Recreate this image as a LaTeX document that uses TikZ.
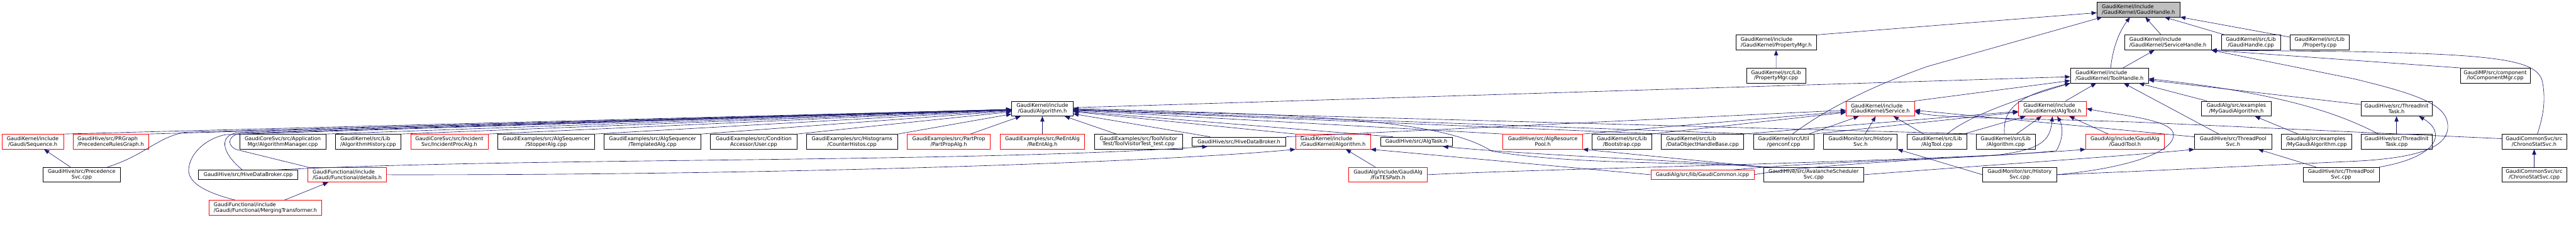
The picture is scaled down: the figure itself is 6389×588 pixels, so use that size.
\documentclass[tikz,border=0pt]{standalone}
\usepackage{fontspec}
\setmainfont{DejaVu Sans}
\usetikzlibrary{arrows.meta}
\definecolor{edgec}{RGB}{25,25,112}
\definecolor{rootfill}{RGB}{191,191,191}
\tikzset{
  nb/.style={draw=black, fill=white, line width=1pt, rectangle, inner sep=0pt, minimum height=37pt,
    font=\fontsize{12.8}{13.8}\selectfont, align=center},
  nbl/.style={nb, align=left},
  rd/.style={draw=red},
  one/.style={minimum height=23pt},
  root/.style={fill=rootfill},
  inc/.style={draw=edgec, line width=1pt, {Triangle[length=13pt,width=10pt]}-}
}
\begin{document}
\begin{tikzpicture}[x=1pt,y=-1pt]
\useasboundingbox (0,0) rectangle (6389,588);
% level 0
\node[nbl, root, minimum width=205.9pt] (gh) at (5303.75,23.5) {GaudiKernel/include\\/GaudiKernel/GaudiHandle.h};
% level 1
\node[nbl, minimum width=198.7pt] (pmh) at (4405.15,105.5) {GaudiKernel/include\\/GaudiKernel/PropertyMgr.h};
\node[nbl, minimum width=214.6pt] (shh) at (5376.9,105.5) {GaudiKernel/include\\/GaudiKernel/ServiceHandle.h};
\node[nb, minimum width=147pt] (ghc) at (5582.5,105.5) {GaudiKernel/src/Lib\\/GaudiHandle.cpp};
\node[nb, minimum width=147pt] (propc) at (5753,105.5) {GaudiKernel/src/Lib\\/Property.cpp};
% level 2
\node[nb, minimum width=146.7pt] (pmc) at (4404.95,187.5) {GaudiKernel/src/Lib\\/PropertyMgr.cpp};
\node[nbl, minimum width=193.6pt] (thh) at (5231.8,187.5) {GaudiKernel/include\\/GaudiKernel/ToolHandle.h};
\node[nb, minimum width=172.9pt] (iocm) at (6188.5,187.5) {GaudiMP/src/component\\/IoComponentMgr.cpp};
% level 3
\node[nb, minimum width=152.3pt] (galg) at (2585.25,269.5) {GaudiKernel/include\\/Gaudi/Algorithm.h};
\node[nbl, rd, minimum width=169.5pt] (svc) at (4663.55,269.5) {GaudiKernel/include\\/GaudiKernel/Service.h};
\node[nbl, rd, minimum width=168.7pt] (atoolh) at (5090.25,269.5) {GaudiKernel/include\\/GaudiKernel/AlgTool.h};
\node[nb, minimum width=172.1pt] (mgah) at (5546.55,269.5) {GaudiAlg/src/examples\\/MyGaudiAlgorithm.h};
\node[nb, minimum width=176.6pt] (tith) at (5943.8,269.5) {GaudiHive/src/ThreadInit\\Task.h};
% level 4
\node[nb, rd, minimum width=152.6pt] (seq) at (81.1,351.5) {GaudiKernel/include\\/Gaudi/Sequence.h};
\node[nbl, rd, minimum width=187pt] (prg) at (274.5,351.5) {GaudiHive/src/PRGraph\\/PrecedenceRulesGraph.h};
\node[nb, minimum width=213.5pt] (algmgr) at (701.15,351.5) {GaudiCoreSvc/src/Application\\Mgr/AlgorithmManager.cpp};
\node[nbl, minimum width=162.9pt] (alghist) at (913.05,351.5) {GaudiKernel/src/Lib\\/AlgorithmHistory.cpp};
\node[nb, rd, minimum width=192.2pt] (incproc) at (1114.4,351.5) {GaudiCoreSvc/src/Incident\\Svc/IncidentProcAlg.h};
\node[nb, minimum width=240pt] (stopper) at (1354.6,351.5) {GaudiExamples/src/AlgSequencer\\/StopperAlg.cpp};
\node[nb, minimum width=240.4pt] (templ) at (1618.6,351.5) {GaudiExamples/src/AlgSequencer\\/TemplatedAlg.cpp};
\node[nb, minimum width=214.2pt] (user) at (1869.3,351.5) {GaudiExamples/src/Condition\\Accessor/User.cpp};
\node[nb, minimum width=227.3pt] (counter) at (2113.05,351.5) {GaudiExamples/src/Histograms\\/CounterHistos.cpp};
\node[nb, rd, minimum width=205.9pt] (partprop) at (2353.15,351.5) {GaudiExamples/src/PartProp\\/PartPropAlg.h};
\node[nb, rd, minimum width=210.1pt] (reent) at (2585.25,351.5) {GaudiExamples/src/ReEntAlg\\/ReEntAlg.h};
\node[nb, minimum width=218.7pt] (toolvis) at (2823.75,351.5) {GaudiExamples/src/ToolVisitor\\Test/ToolVisitorTest\_test.cpp};
\node[nb, one, minimum width=231.8pt] (hdbh) at (3072.7,351.5) {GaudiHive/src/HiveDataBroker.h};
\node[nbl, rd, minimum width=185.6pt] (gkalg) at (3306.2,351.5) {GaudiKernel/include\\/GaudiKernel/Algorithm.h};
\node[nb, one, minimum width=178.7pt] (algtask) at (3512.85,351.5) {GaudiHive/src/AlgTask.h};
\node[nb, rd, minimum width=197.6pt] (arp) at (3826.4,351.5) {GaudiHive/src/AlgResource\\Pool.h};
\node[nb, minimum width=147.4pt] (boot) at (4022.7,351.5) {GaudiKernel/src/Lib\\/Bootstrap.cpp};
\node[nbl, minimum width=203.9pt] (dohb) at (4222.45,351.5) {GaudiKernel/src/Lib\\/DataObjectHandleBase.cpp};
\node[nb, minimum width=150.5pt] (genconf) at (4423.75,351.5) {GaudiKernel/src/Util\\/genconf.cpp};
\node[nb, minimum width=182.6pt] (histh) at (4614.3,351.5) {GaudiMonitor/src/History\\Svc.h};
\node[nb, minimum width=147pt] (atoolc) at (4803.9,351.5) {GaudiKernel/src/Lib\\/AlgTool.cpp};
\node[nb, minimum width=147pt] (algc) at (4974.4,351.5) {GaudiKernel/src/Lib\\/Algorithm.cpp};
\node[nb, rd, minimum width=194.9pt] (gtool) at (5270.35,351.5) {GaudiAlg/include/GaudiAlg\\/GaudiTool.h};
\node[nb, minimum width=191.1pt] (tpsh) at (5538.45,351.5) {GaudiHive/src/ThreadPool\\Svc.h};
\node[nbl, minimum width=174.9pt] (mgac) at (5745.25,351.5) {GaudiAlg/src/examples\\/MyGaudiAlgorithm.cpp};
\node[nb, minimum width=176.6pt] (titc) at (5943.8,351.5) {GaudiHive/src/ThreadInit\\Task.cpp};
\node[nb, minimum width=160.5pt] (chrh) at (6285.2,351.5) {GaudiCommonSvc/src\\/ChronoStatSvc.h};
% level 5
\node[nb, minimum width=191.9pt] (precsvc) at (202.65,433.5) {GaudiHive/src/Precedence\\Svc.cpp};
\node[nb, one, minimum width=247pt] (hdbc) at (615.5,433.5) {GaudiHive/src/HiveDataBroker.cpp};
\node[nbl, rd, minimum width=195.2pt] (details) at (861.1,433.5) {GaudiFunctional/include\\/Gaudi/Functional/details.h};
\node[nb, rd, minimum width=194.6pt] (fixtes) at (3442.6,433.5) {GaudiAlg/include/GaudiAlg\\/FixTESPath.h};
\node[nb, rd, one, minimum width=255.9pt] (gcommon) at (4222.25,433.5) {GaudiAlg/src/lib/GaudiCommon.icpp};
\node[nb, minimum width=247.9pt] (avsched) at (4498.25,433.5) {GaudiHive/src/AvalancheScheduler\\Svc.cpp};
\node[nb, minimum width=183.2pt] (histc) at (5009,433.5) {GaudiMonitor/src/History\\Svc.cpp};
\node[nb, minimum width=188.7pt] (tpsc) at (5806.55,433.5) {GaudiHive/src/ThreadPool\\Svc.cpp};
\node[nb, minimum width=160.5pt] (chrc) at (6285.2,433.5) {GaudiCommonSvc/src\\/ChronoStatSvc.cpp};
% level 6
\node[nbl, rd, minimum width=278.6pt] (merging) at (658.3,515.5) {GaudiFunctional/include\\/Gaudi/Functional/MergingTransformer.h};

% ---------------- edges ----------------
% into GaudiHandle.h
\draw[inc] (gh) -- (pmh.north east);
\draw[inc] ([xshift=-90pt]gh.south) -- (4780,165) .. controls (4640,215) and (4530,270) .. ([xshift=22pt]genconf.north);
\draw[inc] ([xshift=-21pt]gh.south) .. controls (5255,80) and (5240,120) .. ([xshift=3pt]thh.north);
\draw[inc] (gh) -- (shh);
\draw[inc] (gh) -- (ghc);
\draw[inc] (gh) -- (propc);
% PropertyMgr
\draw[inc] (pmh) -- (pmc);
% ServiceHandle.h
\draw[inc] (shh) -- (thh);
\draw[inc] (shh.south east) -- (iocm.north west);
\draw[inc] (shh.south east) -- (5830,128) .. controls (6200,135) and (6290,150) .. (6305,200) .. controls (6318,260) and (6300,310) .. ([xshift=8pt]chrh.north);
\draw[inc] (shh.south east) -- (5840,196) .. controls (6000,235) and (6070,260) .. (6071,313) .. controls (6072,365) and (6000,392) .. (5840,400) -- (5300,425) -- (histc.east);
% ToolHandle.h
\draw[inc] (thh) -- (galg);
\draw[inc] (thh) -- (svc.north east);
\draw[inc] (thh.south west) .. controls (4990,250) and (4880,290) .. ([xshift=25pt]atoolc.north);
\draw[inc] (thh.south west) .. controls (4995,240) and (4968,275) .. ([xshift=-3pt]algc.north);
\draw[inc] (thh) -- (atoolh);
\draw[inc] (thh) -- (tpsh);
\draw[inc] (thh) -- (mgah);
\draw[inc] (thh) -- (tith);
\draw[inc] ([yshift=-8pt]thh.east) .. controls (5650,230) and (5800,280) .. ([xshift=-45pt]titc.north);
% MyGaudiAlgorithm / ThreadInitTask
\draw[inc] (mgah) -- (mgac);
\draw[inc] (tith) -- (titc);
\draw[inc] ([xshift=-33pt]tith.south east) .. controls (6070,330) and (6045,390) .. (tpsc.north east);
% Gaudi/Algorithm.h
\foreach \n in {seq,prg,algmgr,alghist,incproc,stopper,templ,user,counter}
  \draw[inc] (galg) -- (\n.north east);
\draw[inc] (galg) -- (partprop);
\draw[inc] (galg) -- (reent);
\draw[inc] (galg) -- (toolvis);
\draw[inc] (galg) -- (hdbh);
\draw[inc] (galg) -- (gkalg.north west);
\draw[inc] (galg) -- ([xshift=32pt]algtask.north west);
\draw[inc] (galg) -- (arp.north west);
\draw[inc] (galg) -- (dohb.north west);
\draw[inc] (galg) -- (genconf.north west);
\draw[inc] (galg) -- (algc.north west);
\draw[inc] (galg) -- (460,328) .. controls (390,340) and (360,385) .. ([xshift=64pt]precsvc.north);
\draw[inc] (galg) -- (590,329) .. controls (545,335) and (545,375) .. ([xshift=-14.5pt]hdbc.north);
\draw[inc] (galg) -- (595,331) .. controls (560,338) and (565,366) .. (590,372) -- (details.north west);
\draw[inc] (galg) -- (560,334) .. controls (505,345) and (470,385) .. (468,420) .. controls (466,450) and (500,475) .. ([xshift=-75pt]merging.north);
\draw[inc] (galg.east) .. controls (3300,285) and (3580,300) .. (3700,375) .. controls (3900,410) and (4200,400) .. (avsched.north west);
% Service.h
\draw[inc] (svc) -- (hdbh.north east);
\draw[inc] (svc) -- (arp.north east);
\draw[inc] (svc) -- (boot.north east);
\draw[inc] (svc) -- ([xshift=-13pt]genconf.north east);
\draw[inc] (svc) -- (histh);
\draw[inc] (svc) -- (atoolc);
\draw[inc] ([yshift=-4pt]svc.east) -- ([yshift=12pt]tpsh.west);
\draw[inc] ([yshift=-7pt]svc.east) .. controls (4800,293) and (5000,293) .. (5300,303) -- ([yshift=7.5pt]chrh.west);
% AlgTool.h
\draw[inc] (atoolh) -- (gtool);
\draw[inc] (atoolh) -- (algc);
\draw[inc] (atoolh) -- (atoolc);
\draw[inc] (atoolh) -- (genconf.north east);
\draw[inc] (atoolh) -- (dohb.north east);
\draw[inc] (atoolh.south) .. controls (5085,350) and (5060,372) .. (4950,385) .. controls (4400,410) and (3800,420) .. (fixtes.east);
\draw[inc] ([xshift=12pt]atoolh.south) .. controls (5115,310) and (5120,340) .. (5100,374) .. controls (4900,395) and (4500,400) .. ([xshift=78pt]gcommon.north);
\draw[inc] (atoolh.east) .. controls (5250,285) and (5380,295) .. (5390,330) .. controls (5400,370) and (5300,415) .. (histc.east);
% GaudiKernel/Algorithm.h
\draw[inc] (gkalg.south west) .. controls (2900,400) and (2000,435) .. (details.east);
\draw[inc] (gkalg) -- (fixtes);
\draw[inc] (gkalg.south east) -- (gcommon.west);
% other
\draw[inc] ([xshift=66pt]algtask.south) .. controls (3800,385) and (4200,400) .. ([xshift=8pt]avsched.north west);
\draw[inc] (arp.south east) -- (avsched.north west);
\draw[inc] ([xshift=-78pt]hdbh.south) .. controls (2400,405) and (1300,390) .. ([xshift=71pt]hdbc.north);
\draw[inc] (histh.south east) -- (histc.west);
\draw[inc] (tpsh.south west) .. controls (5300,385) and (4900,412) .. (avsched.east);
\draw[inc] (tpsh) -- (tpsc);
\draw[inc] (gtool.south west) .. controls (5000,385) and (4500,405) .. (gcommon.east);
\draw[inc] (seq) -- (precsvc);
\draw[inc] (details) -- (merging);
\draw[inc] (chrh) -- (chrc);
\end{tikzpicture}
\end{document}
